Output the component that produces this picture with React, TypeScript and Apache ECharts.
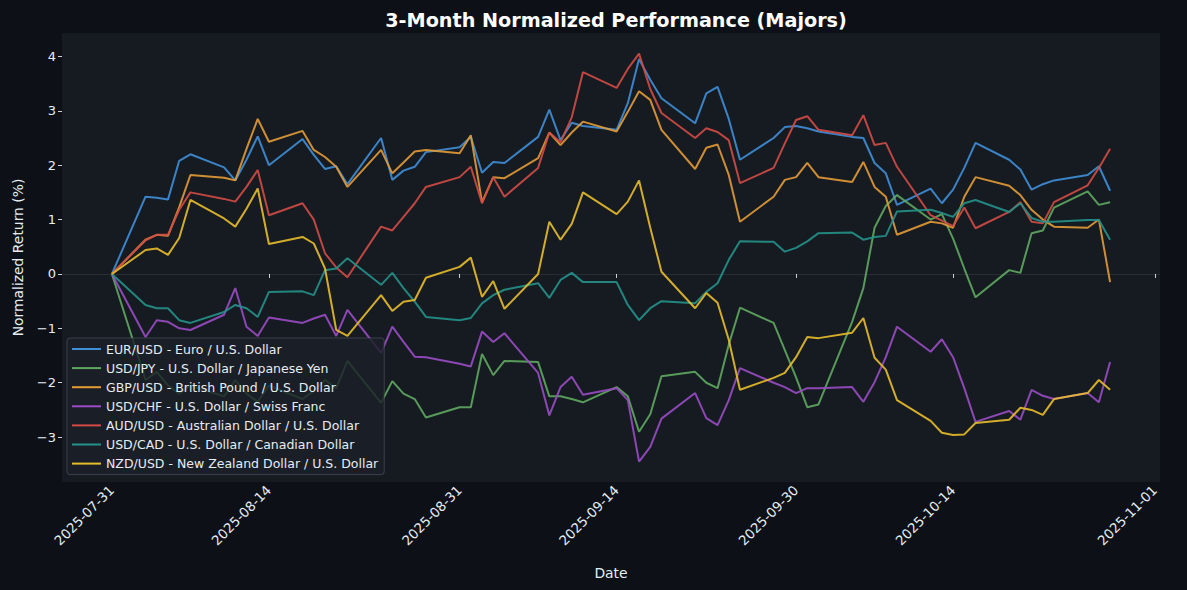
import React, { useEffect, useRef } from "react";
import * as echarts from "echarts";

// Plotted timestamps (as shown on the axis)
const DATES = [
  "2025-07-31",
  "2025-08-03", "2025-08-04", "2025-08-05", "2025-08-06", "2025-08-07",
  "2025-08-10", "2025-08-11", "2025-08-12", "2025-08-13", "2025-08-14",
  "2025-08-17", "2025-08-18", "2025-08-19", "2025-08-20", "2025-08-21",
  "2025-08-24", "2025-08-25", "2025-08-26", "2025-08-27", "2025-08-28",
  "2025-08-31", "2025-09-01", "2025-09-02", "2025-09-03", "2025-09-04",
  "2025-09-07", "2025-09-08", "2025-09-09", "2025-09-10", "2025-09-11",
  "2025-09-14", "2025-09-15", "2025-09-16", "2025-09-17", "2025-09-18",
  "2025-09-21", "2025-09-22", "2025-09-23", "2025-09-24", "2025-09-25",
  "2025-09-28", "2025-09-29", "2025-09-30", "2025-10-01", "2025-10-02",
  "2025-10-05", "2025-10-06", "2025-10-07", "2025-10-08", "2025-10-09",
  "2025-10-12", "2025-10-13", "2025-10-14", "2025-10-15", "2025-10-16",
  "2025-10-19", "2025-10-20", "2025-10-21", "2025-10-22", "2025-10-23",
  "2025-10-26", "2025-10-27", "2025-10-28",
];

const EURUSD = [0, 1.42, 1.40, 1.37, 2.08, 2.2, 1.96, 1.72, 2.1, 2.53, 2.0, 2.48, 2.19, 1.93, 1.98, 1.65, 2.5, 1.73, 1.9, 1.97, 2.24, 2.33, 2.52, 1.86, 2.06, 2.04, 2.52, 3.02, 2.46, 2.78, 2.72, 2.65, 3.14, 3.95, 3.57, 3.23, 2.77, 3.32, 3.44, 2.85, 2.1, 2.5, 2.7, 2.72, 2.68, 2.62, 2.52, 2.5, 2.04, 1.85, 1.27, 1.57, 1.3, 1.55, 1.95, 2.41, 2.1, 1.92, 1.55, 1.65, 1.72, 1.82, 1.98, 1.53];
const USDJPY = [0, -1.95, -1.8, -2.05, -2.2, -2.05, -2.25, -1.95, -2.2, -2.35, -2.05, -2.3, -2.15, -1.95, -2.1, -1.6, -2.37, -1.97, -2.2, -2.3, -2.64, -2.45, -2.45, -1.47, -1.86, -1.6, -1.62, -2.25, -2.25, -2.3, -2.36, -2.08, -2.25, -2.9, -2.58, -1.88, -1.8, -2.0, -2.1, -1.3, -0.62, -0.9, -1.4, -1.9, -2.45, -2.4, -0.88, -0.26, 0.85, 1.25, 1.45, 1.0, 1.1, 0.65, 0.1, -0.43, 0.07, 0.02, 0.75, 0.8, 1.22, 1.52, 1.27, 1.32];
const GBPUSD = [0, 0.63, 0.72, 0.70, 1.23, 1.82, 1.77, 1.72, 2.3, 2.85, 2.43, 2.63, 2.28, 2.15, 1.97, 1.6, 2.28, 1.85, 2.05, 2.25, 2.28, 2.22, 2.55, 1.32, 1.78, 1.76, 2.13, 2.6, 2.37, 2.6, 2.8, 2.62, 2.98, 3.36, 3.2, 2.65, 1.93, 2.32, 2.38, 1.82, 0.96, 1.42, 1.73, 1.78, 2.04, 1.78, 1.69, 2.06, 1.6, 1.42, 0.72, 0.96, 0.93, 0.85, 1.42, 1.78, 1.62, 1.45, 1.18, 1.0, 0.87, 0.85, 1.0, -0.15];
const USDCHF = [0, -1.16, -0.85, -0.88, -1.0, -1.03, -0.75, -0.26, -0.97, -1.14, -0.8, -0.9, -0.82, -0.75, -1.14, -0.66, -1.45, -0.97, -1.25, -1.52, -1.53, -1.65, -1.7, -1.06, -1.25, -1.09, -1.82, -2.6, -2.08, -1.89, -2.22, -2.1, -2.32, -3.45, -3.18, -2.66, -2.19, -2.65, -2.78, -2.32, -1.73, -2.0, -2.08, -2.19, -2.1, -2.1, -2.08, -2.35, -1.99, -1.53, -0.97, -1.43, -1.2, -1.53, -2.1, -2.72, -2.52, -2.68, -2.13, -2.24, -2.3, -2.19, -2.36, -1.62];
const AUDUSD = [0, 0.62, 0.72, 0.72, 1.18, 1.5, 1.38, 1.33, 1.6, 1.91, 1.08, 1.3, 1.0, 0.38, 0.12, -0.06, 0.87, 0.8, 1.05, 1.3, 1.6, 1.78, 1.97, 1.3, 1.78, 1.42, 1.95, 2.6, 2.42, 2.88, 3.71, 3.42, 3.77, 4.05, 3.4, 2.96, 2.5, 2.68, 2.61, 2.46, 1.67, 1.95, 2.4, 2.83, 2.9, 2.65, 2.55, 2.92, 2.37, 2.41, 1.97, 1.08, 0.98, 0.88, 1.22, 0.84, 1.14, 1.32, 0.96, 0.93, 1.32, 1.63, 1.95, 2.3];
const USDCAD = [0, -0.57, -0.63, -0.63, -0.85, -0.9, -0.7, -0.57, -0.63, -0.79, -0.33, -0.32, -0.39, 0.07, 0.1, 0.29, -0.2, 0.02, -0.26, -0.51, -0.79, -0.85, -0.81, -0.54, -0.39, -0.29, -0.17, -0.44, -0.11, 0.02, -0.15, -0.15, -0.57, -0.85, -0.63, -0.5, -0.54, -0.33, -0.17, 0.26, 0.6, 0.59, 0.41, 0.48, 0.6, 0.75, 0.76, 0.63, 0.68, 0.7, 1.15, 1.18, 1.12, 1.05, 1.3, 1.36, 1.14, 1.3, 1.03, 0.96, 0.96, 0.99, 0.99, 0.63];
const NZDUSD = [0, 0.44, 0.47, 0.35, 0.66, 1.36, 1.02, 0.87, 1.2, 1.57, 0.55, 0.68, 0.56, 0.1, -1.03, -1.14, -0.39, -0.68, -0.51, -0.48, -0.07, 0.13, 0.3, -0.42, -0.13, -0.64, 0.0, 0.96, 0.63, 0.92, 1.5, 1.1, 1.33, 1.72, 0.85, 0.04, -0.63, -0.35, -0.53, -1.21, -2.13, -1.91, -1.82, -1.53, -1.16, -1.18, -1.08, -0.81, -1.54, -1.76, -2.32, -2.7, -2.92, -2.96, -2.95, -2.74, -2.68, -2.46, -2.5, -2.59, -2.3, -2.19, -1.95, -2.13];

const SERIES_NAMES = [
  "EUR/USD - Euro / U.S. Dollar",
  "USD/JPY - U.S. Dollar / Japanese Yen",
  "GBP/USD - British Pound / U.S. Dollar",
  "USD/CHF - U.S. Dollar / Swiss Franc",
  "AUD/USD - Australian Dollar / U.S. Dollar",
  "USD/CAD - U.S. Dollar / Canadian Dollar",
  "NZD/USD - New Zealand Dollar / U.S. Dollar",
];
const SERIES_VALUES = [EURUSD, USDJPY, GBPUSD, USDCHF, AUDUSD, USDCAD, NZDUSD];
const COLORS = ["#3f8fd8", "#5fa85f", "#e39b36", "#9a4cc4", "#d24b45", "#23928a", "#e8bd2a"];

const X_TICKS = ["2025-07-31", "2025-08-14", "2025-08-31", "2025-09-14", "2025-09-30", "2025-10-14", "2025-11-01"];
const Y_TICKS = [-3, -2, -1, 0, 1, 2, 3, 4];

const ts = (s: string) => Date.parse(s + "T00:00:00Z");

function fmtDate(v: number) {
  const d = new Date(v);
  const p = (n: number) => (n < 10 ? "0" + n : "" + n);
  return d.getUTCFullYear() + "-" + p(d.getUTCMonth() + 1) + "-" + p(d.getUTCDate());
}

export default function App() {
  const ref = useRef<HTMLDivElement>(null);
  useEffect(() => {
    document.body.style.margin = "0";
    document.body.style.background = "#0d1117";
    const chart = echarts.init(ref.current!, undefined, { renderer: "svg" });
    const t0 = ts(DATES[0]);
    const t1 = ts(DATES[DATES.length - 1]);
    const pad = (t1 - t0) * 0.05;
    const font = "DejaVu Sans";
    const series: any[] = SERIES_NAMES.map((name, i) => ({
      name,
      type: "line",
      data: DATES.map((d, j) => [ts(d), SERIES_VALUES[i][j]]),
      showSymbol: false,
      symbol: "none",
      lineStyle: { width: 2, color: COLORS[i], opacity: 0.9 },
      itemStyle: { color: COLORS[i] },
      z: 3,
    }));
    series[0].markLine = {
      silent: true,
      symbol: "none",
      label: { show: false },
      lineStyle: { color: "rgba(255,255,255,0.08)", type: "solid", width: 1 },
      data: [{ yAxis: 0 }],
      z: 1,
    };
    chart.setOption({
      animation: false,
      backgroundColor: "#0d1117",
      textStyle: { fontFamily: font },
      title: {
        text: "3-Month Normalized Performance (Majors)",
        left: 611,
        textAlign: "center",
        top: 6,
        textStyle: { color: "#ffffff", fontSize: 19.2, fontWeight: "bold", fontFamily: font },
      },
      grid: {
        left: 62,
        top: 33,
        width: 1098,
        height: 449,
        show: true,
        backgroundColor: "#161b22",
        borderWidth: 0,
        containLabel: false,
      },
      legend: {
        orient: "vertical",
        left: 67,
        top: 338,
        padding: [4, 6, 4, 5],
        itemGap: 5.1,
        itemWidth: 29,
        itemHeight: 2,
        icon: "rect",
        backgroundColor: "rgba(27,32,39,0.82)",
        borderColor: "rgba(90,96,104,0.55)",
        borderWidth: 1,
        borderRadius: 3,
        textStyle: { color: "#e6edf3", fontSize: 12.5, lineHeight: 14, fontFamily: font },
        data: SERIES_NAMES,
      },
      xAxis: {
        type: "value",
        min: t0 - pad,
        max: t1 + pad,
        name: "Date",
        nameLocation: "middle",
        nameGap: 84,
        nameTextStyle: { color: "#e6edf3", fontSize: 13.9, fontFamily: font },
        axisLine: { show: false },
        splitLine: { show: false },
        axisTick: {
          show: true,
          length: 4,
          lineStyle: { color: "#c9d1d9" },
          customValues: X_TICKS.map(ts),
        },
        axisLabel: {
          color: "#e6edf3",
          fontSize: 13.4,
          rotate: 45,
          margin: 6,
          fontFamily: font,
          customValues: X_TICKS.map(ts),
          formatter: (v: number) => fmtDate(v),
        },
      },
      yAxis: {
        type: "value",
        min: -3.825,
        max: 4.43,
        name: "Normalized Return (%)",
        nameLocation: "middle",
        nameGap: 37,
        nameTextStyle: { color: "#e6edf3", fontSize: 13.9, fontFamily: font },
        axisLine: { show: false },
        splitLine: { show: false },
        axisTick: {
          show: true,
          length: 4,
          lineStyle: { color: "#c9d1d9" },
          customValues: Y_TICKS,
        },
        axisLabel: {
          color: "#e6edf3",
          fontSize: 13,
          margin: 6,
          fontFamily: font,
          customValues: Y_TICKS,
          formatter: (v: number) => String(v).replace("-", "\u2212"),
        },
      },
      series,
    });
    return () => chart.dispose();
  }, []);
  return <div ref={ref} style={{ width: 1187, height: 590 }} />;
}
